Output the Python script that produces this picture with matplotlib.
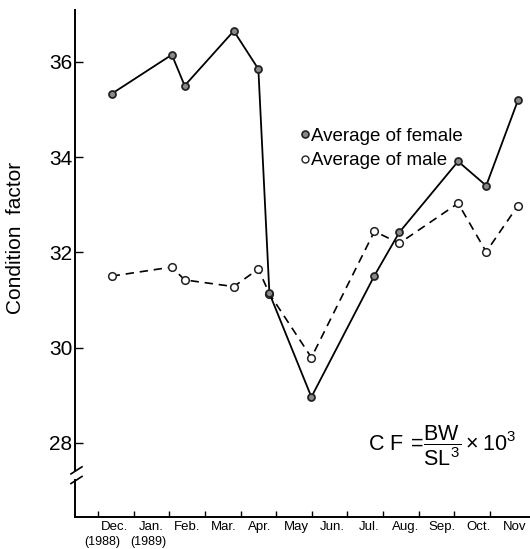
import matplotlib
matplotlib.use("Agg")
import matplotlib.pyplot as plt
from matplotlib.lines import Line2D

plt.rcParams['font.family'] = ['Liberation Sans', 'DejaVu Sans']
plt.rcParams['mathtext.fontset'] = 'custom'
plt.rcParams['mathtext.rm'] = 'Liberation Sans'
plt.rcParams['mathtext.default'] = 'regular'

# sampling dates, in months after 1 Dec 1988
sample_month = [0.38, 2.07, 2.43, 3.81, 4.50, 4.81, 5.99, 7.76, 8.46, 10.11, 10.90, 11.79]
female_cf = [35.33, 36.15, 35.50, 36.65, 35.85, 31.14, 28.96, 31.51, 32.42, 33.91, 33.40, 35.19]
male_cf = [31.50, 31.69, 31.42, 31.28, 31.65, 31.13, 29.79, 32.44, 32.19, 33.03, 32.01, 32.98]

month_labels = ["Dec.", "Jan.", "Feb.", "Mar.", "Apr.", "May", "Jun.",
                "Jul.", "Aug.", "Sep.", "Oct.", "Nov"]
year_labels = ["(1988)", "(1989)"]
y_ticks = [28, 30, 32, 34, 36]


def main():
    fig = plt.figure(figsize=(5.3, 5.49), dpi=100)
    ax = fig.add_axes([75 / 530, 32 / 549, 455 / 530, 507 / 549])

    ax.plot(sample_month, female_cf, color="black", lw=1.3, marker="o",
            ms=5, mfc="#8a8a8a", mec="#222222", mew=1.3, zorder=3)
    ax.plot(sample_month, male_cf, color="black", lw=1.2, ls=(0, (5, 3.5)),
            marker="o", ms=5.5, mfc="white", mec="#222222", mew=1.1, zorder=2)

    ax.set_xlim(-0.65, 12.13)
    ax.set_ylim(26.44, 37.09)

    ax.set_yticks(y_ticks)
    ax.set_yticklabels([str(t) for t in y_ticks], fontsize=15)
    ax.tick_params(axis="y", direction="in", length=6, width=1, pad=2)

    ax.set_xticks(range(12))
    ax.set_xticklabels([])
    ax.set_xticks([i * 1.02 + 0.47 for i in range(12)], minor=True)
    ax.set_xticklabels(month_labels, minor=True, fontsize=9.5)
    ax.tick_params(axis="x", which="major", direction="in", length=4, width=1)
    ax.tick_params(axis="x", which="minor", length=0, pad=3)

    for i, lab in enumerate(year_labels):
        ax.text(i * 1.3 + 0.12, -0.037, lab, transform=ax.get_xaxis_transform(),
                ha="center", va="top", fontsize=9)

    ax.set_ylabel("Condition  factor", fontsize=15)
    ax.yaxis.set_label_coords(-0.11, 0.55)

    for s in ("top", "right"):
        ax.spines[s].set_visible(False)
    ax.spines["bottom"].set_linewidth(1.4)
    ax.spines["left"].set_linewidth(1.4)
    ax.spines["left"].set_bounds(27.43, 37.09)
    # lower piece of the broken y axis and the break marks
    ax.plot([0, 0], [0, 0.073], transform=ax.transAxes, color="black",
            lw=1.4, clip_on=False)
    for yb in (0.092, 0.073):
        ax.plot([-4 / 455, 7 / 455], [yb - 0.007, yb + 0.007],
                transform=ax.transAxes, color="black", lw=1.2, clip_on=False)

    handles = [
        Line2D([], [], ls="none", marker="o", ms=5, mfc="#8a8a8a",
               mec="#222222", mew=1.2),
        Line2D([], [], ls="none", marker="o", ms=5, mfc="white",
               mec="#222222", mew=1.0),
    ]
    ax.legend(handles, ["Average of female", "Average of male"],
              loc="upper left", bbox_to_anchor=(0.48, 0.783), frameon=False,
              fontsize=13.5, handlelength=0.4, handletextpad=0.15,
              labelspacing=0.4, borderaxespad=0)

    ax.text(0.645, 0.14, r"C F$\,=\!\dfrac{BW}{SL^3}\times10^3$",
            transform=ax.transAxes, fontsize=15.5, va="center", ha="left")

    fig.savefig("out.png", dpi=100)
    plt.close("all")


if __name__ == "__main__":
    main()
